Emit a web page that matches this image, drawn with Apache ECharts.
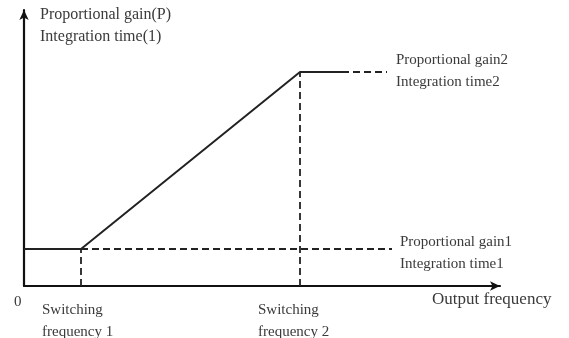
<!DOCTYPE html>
<html>
<head>
<meta charset="utf-8">
<style>
  html, body { margin: 0; padding: 0; background: #fff; }
  #chart { width: 569px; height: 338px; }
</style>
<script src="https://cdn.jsdelivr.net/npm/echarts@6/dist/echarts.min.js"></script>
</head>
<body>
<div id="chart"></div>
<script>
// 坐标单位: 横轴 0..476, 纵轴 0..276
const xRange = [0, 476]
const yRange = [0, 276]

// 开关频率
const switchFreq = [57, 276]
// 比例增益 / 积分时间 两个水平
const gainLevel = [37, 214]

// 实线 (折线)
const solidX = [0, 57, 276, 318]
const solidY = [37, 37, 214, 214]
// 虚线延伸
const topDashX = [318, 363]
const lowDashX = [57, 368]

const labelTexts = {
  yName: 'Proportional gain(P)\nIntegration time(1)',
  high: 'Proportional gain2\nIntegration time2',
  low: 'Proportional gain1\nIntegration time1',
  origin: '0',
  sw1: 'Switching\nfrequency 1',
  sw2: 'Switching\nfrequency 2',
  xName: 'Output frequency'
}

const chart = echarts.init(document.getElementById('chart'))

const txt = (text, left, top, size) => ({
  type: 'text', left, top,
  style: { text, fontFamily: 'Liberation Serif', fontSize: size || 15, fill: '#3a3a3a', lineHeight: 22 }
})

const dashStyle = { color: '#222', width: 1.8, type: [7, 4] }
const pair = (xs, ys) => xs.map((x, i) => [x, ys[i]])

chart.setOption({
  animation: false,
  grid: { left: 24, right: 69, top: 10, bottom: 52 },
  xAxis: {
    type: 'value', min: xRange[0], max: xRange[1],
    axisLine: { onZero: false, lineStyle: { color: '#111', width: 2.2 }, symbol: ['none', 'arrow'], symbolSize: [7, 10] },
    axisTick: { show: false }, axisLabel: { show: false }, splitLine: { show: false }
  },
  yAxis: {
    type: 'value', min: yRange[0], max: yRange[1],
    axisLine: { show: true, onZero: false, lineStyle: { color: '#111', width: 2.2 }, symbol: ['none', 'arrow'], symbolSize: [7, 10] },
    axisTick: { show: false }, axisLabel: { show: false }, splitLine: { show: false }
  },
  series: [
    {
      type: 'line', symbol: 'none',
      lineStyle: { color: '#222', width: 2 },
      data: pair(solidX, solidY)
    },
    {
      type: 'line', symbol: 'none', lineStyle: dashStyle,
      data: pair(topDashX, [gainLevel[1], gainLevel[1]])
    },
    {
      type: 'line', symbol: 'none', lineStyle: dashStyle,
      data: pair(lowDashX, [gainLevel[0], gainLevel[0]])
    },
    {
      type: 'line', symbol: 'none', lineStyle: dashStyle,
      data: pair([switchFreq[0], switchFreq[0]], [0, gainLevel[0]])
    },
    {
      type: 'line', symbol: 'none', lineStyle: dashStyle,
      data: pair([switchFreq[1], switchFreq[1]], [0, gainLevel[1]])
    }
  ],
  graphic: [
    txt(labelTexts.yName, 40, 4, 16),
    txt(labelTexts.high, 396, 49),
    txt(labelTexts.low, 400, 231),
    txt(labelTexts.origin, 14, 291),
    txt(labelTexts.sw1, 42, 299),
    txt(labelTexts.sw2, 258, 299),
    txt(labelTexts.xName, 432, 289, 17)
  ]
})
</script>
</body>
</html>
